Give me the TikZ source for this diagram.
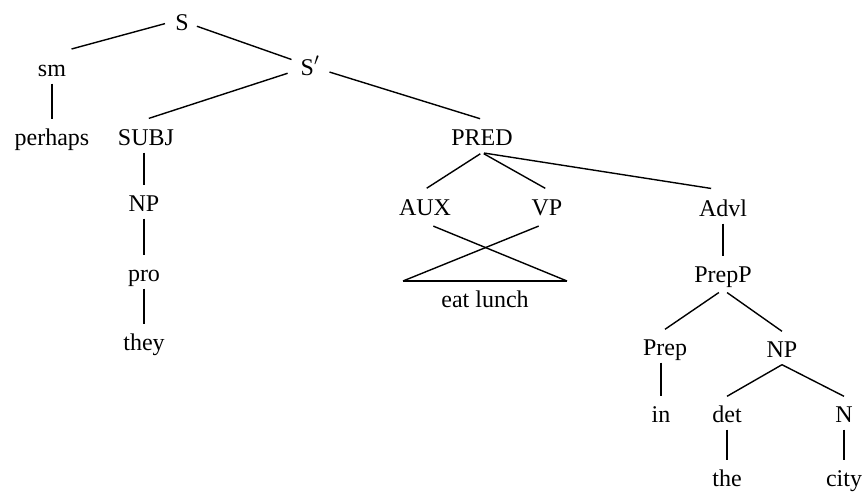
\documentclass[tikz,border=0pt]{standalone}
\usepackage{fontspec}
\setmainfont{Liberation Serif}
\usepackage{tikz}

\begin{document}
\begin{tikzpicture}[x=1pt, y=-1pt, line width=1.4pt,
    nut/.style={anchor=base, inner sep=0pt, text height=25pt, text depth=7pt,
        font=\fontsize{24}{28}\selectfont}]
    \useasboundingbox (0,0) rectangle (865,491);

    % Các nút của cây
    \node[nut] (S) at (182,30) {S};
    \node[nut] (sm) at (52,76) {sm};
    \node[nut] (Sp) at (310,75) {S$'$};
    \node[nut] (perhaps) at (52,145) {perhaps};
    \node[nut] (subj) at (146,145) {SUBJ};
    \node[nut] (pred) at (482,145) {PRED};
    \node[nut] (np) at (144,211) {NP};
    \node[nut] (aux) at (425,215) {AUX};
    \node[nut] (vp) at (547,215) {VP};
    \node[nut] (advl) at (723,216) {Advl};
    \node[nut] (pro) at (144,281) {pro};
    \node[nut] (prepp) at (723,282) {PrepP};
    \node[nut] (they) at (144,350) {they};
    \node[nut] (prep) at (665,355) {Prep};
    \node[nut] (np2) at (782,357) {NP};
    \node[nut] (in) at (661,422) {in};
    \node[nut] (det) at (727,422) {det};
    \node[nut] (n) at (844,422) {N};
    \node[nut] (the) at (727,486) {the};
    \node[nut] (city) at (844,486) {city};
    \node[nut] (eat) at (485,307) {eat lunch};

    % Tam giác
    \coordinate (tl) at (403,281);
    \coordinate (tr) at (567,281);

    % Các nhánh
    \draw[shorten <=10pt, shorten >=5pt] (S.west) -- (sm.north east);
    \draw[shorten <=8pt, shorten >=9pt] (S) -- (Sp);
    \draw[shorten <=13pt, shorten >=3pt] (Sp) -- (subj.north);
    \draw[shorten <=10pt, shorten >=2pt] (Sp) -- (pred.north);
    \draw (sm.south) -- (perhaps.north);
    \draw (subj.south -| np.north) -- (np.north);
    \draw (np.south) -- (pro.north);
    \draw (pro.south) -- (they.north);
    \draw[shorten <=2pt, shorten >=2pt] (pred.south) -- (aux.north);
    \draw[shorten <=2pt, shorten >=2pt] (pred.south) -- (vp.north);
    \draw[shorten <=2pt, shorten >=12pt] (pred.south) -- (advl.north);
    \draw[shorten <=9pt] (aux.south) -- (tr);
    \draw[shorten <=9pt] (vp.south) -- (tl);
    \draw (tl) -- (tr);
    \draw (advl.south) -- (prepp.north);
    \draw[shorten <=5pt] (prepp.south) -- (prep.north);
    \draw[shorten <=5pt] (prepp.south) -- (np2.north);
    \draw (prep.south -| in.north) -- (in.north);
    \draw (np2.south) -- (det.north);
    \draw (np2.south) -- (n.north);
    \draw (det.south) -- (the.north);
    \draw (n.south) -- (city.north);
\end{tikzpicture}
\end{document}
